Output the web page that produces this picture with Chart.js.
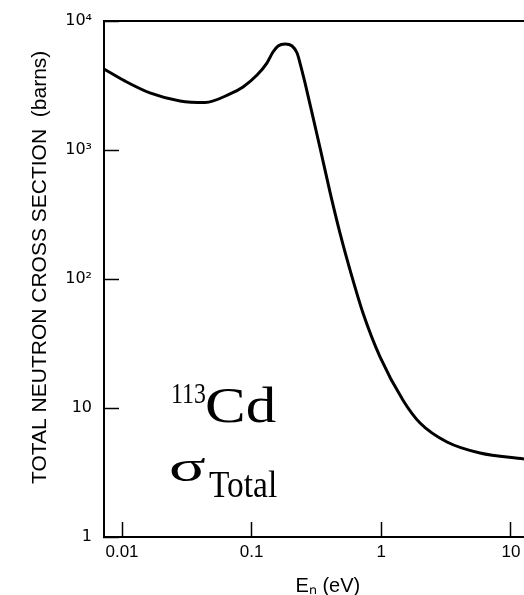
<!DOCTYPE html>
<html>
<head>
<meta charset="utf-8">
<script src="https://cdn.jsdelivr.net/npm/chart.js@4.4.1/dist/chart.umd.min.js"></script>
<style>
  html, body { margin: 0; padding: 0; background: #fff; }
  #wrap { position: relative; width: 524px; height: 595px; overflow: hidden; }
  .note { position: absolute; font-family: "Liberation Serif", "Times New Roman", serif; color: #000; line-height: 1; white-space: nowrap; transform-origin: 0 0; }
</style>
</head>
<body>
<div id="wrap">
  <canvas id="cd113" width="524" height="595"></canvas>
  <span class="note" style="left:171px; top:379px; font-size:29px; transform:scaleX(0.82);">113</span>
  <span class="note" style="left:205px; top:380px; font-size:50px; transform:scaleX(1.22);">Cd</span>
  <span class="note" style="left:169px; top:445px; font-size:44px; transform:scaleX(1.55);">σ</span>
  <span class="note" style="left:209px; top:465px; font-size:38px; transform:scaleX(0.88);">Total</span>
</div>
<script>
// neutron energy (eV) and total cross section (barns)
const energy = [0.00726, 0.0105, 0.0164, 0.0280, 0.0437, 0.0681, 0.0858, 0.110, 0.131, 0.146,
  0.160, 0.181, 0.205, 0.224, 0.236, 0.258, 0.292, 0.337, 0.402, 0.480,
  0.594, 0.722, 0.977, 1.47, 1.99, 3.21, 5.77, 12.6];
const sigma = [4245, 3430, 2770, 2400, 2335, 2720, 3080, 3810, 4720, 5750,
  6400, 6630, 6400, 5650, 4720, 3310, 1940, 1036, 472, 227,
  104, 54.5, 24.9, 11.5, 7.65, 5.45, 4.48, 4.03];

const xTickValues = [0.01, 0.1, 1, 10];
const xTickLabels = ["0.01", "0.1", "1", "10"];
const yTickValues = [1, 10, 100, 1000, 10000];
const yTickLabels = ["1", "10", "10²", "10³", "10⁴"];

const X_MIN = 0.007264;
const X_MAX = 12.6;
const Y_MIN = 1;
const Y_MAX = 10000;

function fixedTicks(values) {
  return function (scale) {
    scale.ticks = values.map(function (v) { return { value: v }; });
  };
}

function labelFor(values, labels) {
  return function (value) {
    let i = values.indexOf(value);
    return i < 0 ? "" : labels[i];
  };
}

function noPadding(s) {
  s.paddingLeft = 0;
  s.paddingRight = 0;
  s.paddingTop = 0;
  s.paddingBottom = 0;
}

new Chart(document.getElementById("cd113"), {
  type: "line",
  data: {
    datasets: [{
      data: energy.map(function (e, i) { return { x: e, y: sigma[i] }; }),
      borderColor: "#000",
      borderWidth: 3,
      pointRadius: 0,
      cubicInterpolationMode: "monotone",
      fill: false,
    }],
  },
  options: {
    responsive: false,
    animation: false,
    layout: { padding: 0, autoPadding: false },
    plugins: { legend: { display: false }, tooltip: { enabled: false } },
    scales: {
      x: {
        type: "logarithmic",
        position: "bottom",
        min: X_MIN,
        max: X_MAX,
        afterBuildTicks: fixedTicks(xTickValues),
        afterFit: function (s) { s.height = 58; noPadding(s); },
        border: { color: "#000", width: 2 },
        grid: { drawOnChartArea: false, tickLength: -15, tickWidth: 1.5, tickColor: "#000" },
        ticks: {
          autoSkip: false, maxRotation: 0, padding: 20, color: "#000",
          font: { family: "'Liberation Sans', Arial, sans-serif", size: 17 },
          callback: labelFor(xTickValues, xTickLabels),
        },
        title: {
          display: true, text: "     Eₙ (eV)", color: "#000",
          font: { family: "'Liberation Sans', Arial, sans-serif", size: 20 },
          padding: { top: 0, bottom: -3 },
        },
      },
      xTop: {
        type: "logarithmic",
        position: "top",
        min: X_MIN,
        max: X_MAX,
        afterBuildTicks: fixedTicks([]),
        afterFit: function (s) { s.height = 21; noPadding(s); },
        border: { color: "#000", width: 2 },
        grid: { display: false },
        ticks: { display: false },
      },
      y: {
        type: "logarithmic",
        position: "left",
        min: Y_MIN,
        max: Y_MAX,
        afterBuildTicks: fixedTicks(yTickValues),
        afterFit: function (s) { s.width = 104; noPadding(s); },
        border: { color: "#000", width: 2 },
        grid: { drawOnChartArea: false, tickLength: -15, tickWidth: 1.5, tickColor: "#000" },
        ticks: {
          autoSkip: false, padding: 27, color: "#000",
          font: { family: "'DejaVu Sans', sans-serif", size: 16 },
          callback: labelFor(yTickValues, yTickLabels),
        },
        title: {
          display: true, text: "    TOTAL NEUTRON CROSS SECTION  (barns)", color: "#000",
          font: { family: "'Liberation Sans', Arial, sans-serif", size: 21 },
          padding: { top: 28, bottom: 0 },
        },
      },
    },
  },
});
</script>
</body>
</html>
